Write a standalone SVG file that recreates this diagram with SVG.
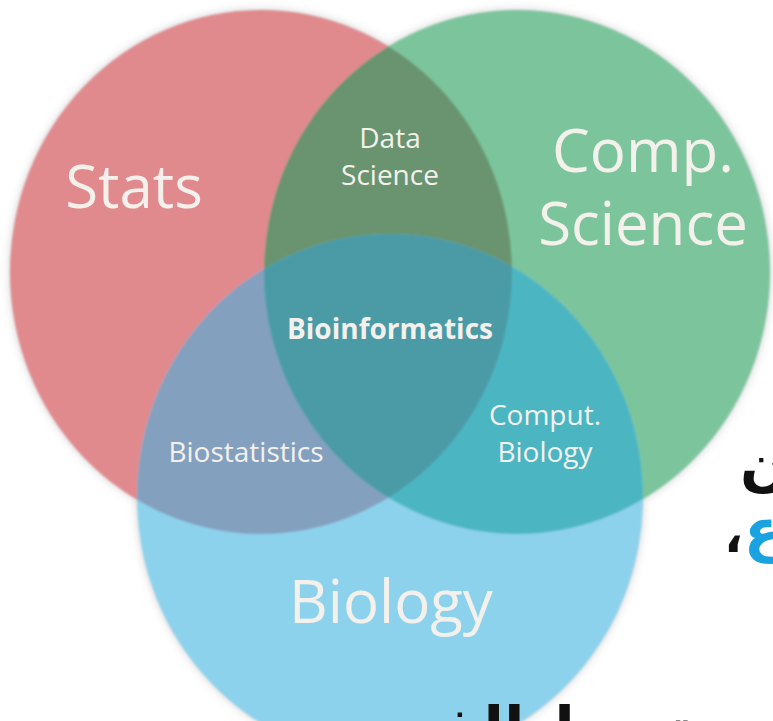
<svg xmlns="http://www.w3.org/2000/svg" width="773" height="721" viewBox="0 0 773 721">
  <defs>
    <style>
      .lbl { font-family: "Open Sans", "DejaVu Sans", sans-serif; fill: #f4f1ec; text-anchor: middle; }
      .big { font-size: 60px; }
      .mid { font-size: 28px; }
      .bold { font-size: 28px; font-weight: bold; }
      .ar { font-family: "DejaVu Sans", "Noto Sans", sans-serif; fill: #111; font-weight: bold; }
      .ar.accent { fill: #1aa3e0; }
    </style>
    <ellipse id="eStats" cx="261" cy="272" rx="251" ry="262"/>
    <ellipse id="eComp" cx="517" cy="272" rx="253" ry="262"/>
    <ellipse id="eBio" cx="390" cy="497" rx="253" ry="263"/>
    <clipPath id="clipStats"><use href="#eStats"/></clipPath>
    <clipPath id="clipComp"><use href="#eComp"/></clipPath>
    <filter id="halo" x="-10%" y="-10%" width="120%" height="120%">
      <feGaussianBlur stdDeviation="5"/>
    </filter>
    <filter id="soft" x="-5%" y="-5%" width="110%" height="110%">
      <feGaussianBlur stdDeviation="1"/>
    </filter>
  </defs>

  <rect width="773" height="721" fill="#ffffff"/>

  <!-- soft grey halo behind the circles -->
  <g fill="#9a9a9a" opacity="0.45" filter="url(#halo)">
    <use href="#eStats"/>
    <use href="#eComp"/>
    <use href="#eBio"/>
  </g>

  <g filter="url(#soft)">
    <g id="stats"><use href="#eStats" fill="#e08a8e"/></g>
    <g id="comp-science"><use href="#eComp" fill="#7cc59c"/></g>
    <g id="biology"><use href="#eBio" fill="#8dd2ec"/></g>
    <g id="data-science" clip-path="url(#clipStats)"><use href="#eComp" fill="#6a9470"/></g>
    <g id="biostatistics" clip-path="url(#clipStats)"><use href="#eBio" fill="#84a0bf"/></g>
    <g id="comput-biology" clip-path="url(#clipComp)"><use href="#eBio" fill="#4cb6c2"/></g>
    <g id="bioinformatics" clip-path="url(#clipStats)"><g clip-path="url(#clipComp)"><use href="#eBio" fill="#4b9ba7"/></g></g>
  </g>

  <!-- labels -->
  <g id="labels">
    <text class="lbl big" x="134" y="208">Stats</text>
    <text class="lbl big" x="643" y="172">Comp.</text>
    <text class="lbl big" x="643" y="245">Science</text>
    <text class="lbl mid" x="390" y="148">Data</text>
    <text class="lbl mid" x="390" y="185">Science</text>
    <text class="lbl bold" x="390" y="339">Bioinformatics</text>
    <text class="lbl mid" x="246" y="462">Biostatistics</text>
    <text class="lbl mid" x="545" y="425">Comput.</text>
    <text class="lbl mid" x="545" y="462">Biology</text>
    <text class="lbl big" x="391" y="623">Biology</text>
  </g>

  <!-- Arabic caption text running off the edges -->
  <g id="caption">
    <text class="ar" x="740" y="484" font-size="58" text-anchor="start">مكون</text>
    <text class="ar" x="724" y="552" font-size="50" text-anchor="start">،</text>
    <text class="ar accent" x="744" y="550" font-size="58" text-anchor="start">ع</text>
    <text class="ar" x="692" y="750" font-size="60" text-anchor="end">تربط الفن</text>
  </g>
</svg>
